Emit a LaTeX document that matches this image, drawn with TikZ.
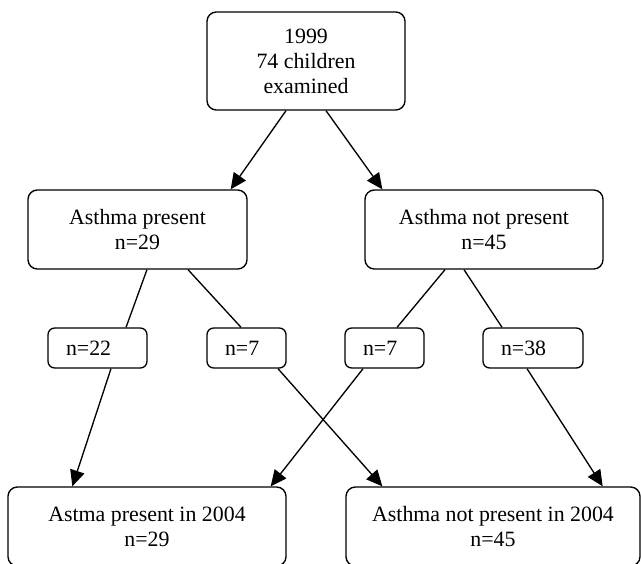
\documentclass[tikz,border=0pt]{standalone}
\usepackage{fontspec}
\setmainfont{Liberation Serif}
\usetikzlibrary{arrows.meta}

\tikzset{every picture/.style={line width=1pt}}
\tikzset{
  bigbox/.style={draw, rounded corners=7pt, align=center, inner sep=0pt, minimum height=59.25pt},
  smallbox/.style={draw, rounded corners=5pt, align=left, inner xsep=13.5pt, inner ysep=0pt, minimum height=30pt},
  flow/.style={-{Triangle[length=12pt,width=11pt]}}
}

\begin{document}
\begin{tikzpicture}[x=0.75pt,y=0.75pt,yscale=-1,xscale=1, font=\fontsize{16.4}{18.8}\selectfont]
	\useasboundingbox (0,0) rectangle (641,563);

	%Rounded Rect: start
	\node [bigbox, minimum width=148.5pt, minimum height=73.5pt] (top) at (306,61) {1999\\74 children\\examined};
	%Rounded Rect: 1999 groups
	\node [bigbox, minimum width=164.25pt] (apres) at (137.5,229.5) {Asthma present\\n=29};
	\node [bigbox, minimum width=178.5pt] (anot) at (484,229.5) {Asthma not present\\n=45};
	%Rounded Rect: counts
	\node [smallbox, text width=47.25pt] (n22) at (97.5,348) {n=22};
	\node [smallbox, text width=32.25pt] (n7a) at (246.5,348) {n=7};
	\node [smallbox, text width=32.25pt] (n7b) at (384.5,348) {n=7};
	\node [smallbox, text width=48pt] (n38) at (533,348) {n=38};
	%Rounded Rect: 2004 groups
	\node [bigbox, minimum width=208.5pt] (bpres) at (147,526.5) {Astma present in 2004\\n=29};
	\node [bigbox, minimum width=220.5pt] (bnot) at (493,526.5) {Asthma not present in 2004\\n=45};

	%Straight Lines
	\draw [flow] ([xshift=-15pt]top.south) -- ([xshift=-12.75pt]apres.north east);
	\draw [flow] ([xshift=15pt]top.south) -- ([xshift=13.5pt]anot.north west);
	\draw ([xshift=7.1pt]apres.south) -- ([xshift=21.4pt]n22.north);
	\draw ([xshift=37.9pt]apres.south) -- ([xshift=-4.1pt]n7a.north);
	\draw ([xshift=-29.25pt]anot.south) -- ([xshift=9.4pt]n7b.north);
	\draw ([xshift=-15pt]anot.south) -- ([xshift=-23.25pt]n38.north);
	\draw [flow] ([xshift=10.1pt]n22.south) -- ([xshift=48.75pt]bpres.north west);
	\draw [flow] ([xshift=23.6pt]n7a.south) -- ([xshift=27.75pt]bnot.north west);
	\draw [flow] ([xshift=-16.1pt]n7b.south) -- ([xshift=-12pt]bpres.north east);
	\draw [flow] ([xshift=-4.5pt]n38.south) -- ([xshift=-28.5pt]bnot.north east);

\end{tikzpicture}
\end{document}
